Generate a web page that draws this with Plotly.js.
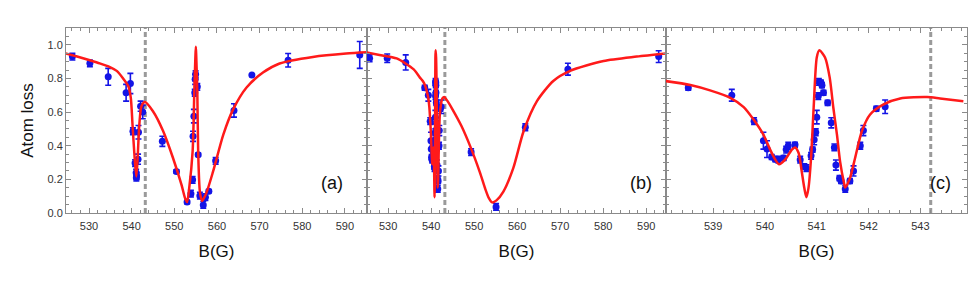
<!DOCTYPE html>
<html>
<head>
<meta charset="utf-8">
<script src="https://cdn.plot.ly/plotly-3.0.1.min.js"></script>
<style>html,body{margin:0;padding:0;background:#fff;}</style>
</head>
<body>
<div id="chart" style="width:969px;height:289px;"></div>
<script>
// ---------- Panel (a) data ----------
const aB = [526.1, 530.2, 534.5, 538.7, 539.7, 540.3, 540.8, 541.05, 541.1, 541.15, 541.5, 541.6, 542.1, 542.6, 547.2, 550.5, 553.0, 553.9, 554.3, 554.4, 554.6, 554.8, 554.9, 555.0, 555.4, 555.6, 556.0, 556.8, 557.3, 558.1, 559.7, 564.0, 568.2, 576.7, 593.5];
const aV = [0.93, 0.89, 0.81, 0.715, 0.77, 0.486, 0.297, 0.24, 0.21, 0.22, 0.32, 0.48, 0.635, 0.60, 0.426, 0.247, 0.065, 0.115, 0.197, 0.456, 0.576, 0.715, 0.795, 0.825, 0.75, 0.347, 0.103, 0.048, 0.094, 0.13, 0.31, 0.61, 0.82, 0.908, 0.94];
const aE = [0.02, 0.02, 0.05, 0.05, 0.06, 0.02, 0.02, 0.02, 0.02, 0.02, 0.03, 0.04, 0.03, 0.04, 0.03, 0.01, 0.01, 0.02, 0.02, 0.03, 0.04, 0.02, 0.03, 0.02, 0.02, 0.01, 0.02, 0.02, 0.02, 0.01, 0.02, 0.04, 0, 0.04, 0.08];
// fitted curve (a)
const caB = [524.4, 527.0, 530.2, 532.5, 534.9, 536.5, 538.0, 539.2, 539.8, 540.2, 540.7, 541.1, 541.4, 541.8, 542.3, 543.1, 545.0, 547.4, 549.7, 551.7, 552.5, 553.0, 553.5, 554.3, 554.7, 554.95, 555.06, 555.15, 555.4, 555.6, 556.0, 556.5, 557.5, 559.1, 561.5, 563.8, 566.9, 570.8, 574.7, 582.5, 590.3, 595.8];
const caV = [0.95, 0.932, 0.908, 0.89, 0.868, 0.845, 0.80, 0.755, 0.685, 0.526, 0.327, 0.217, 0.327, 0.526, 0.635, 0.66, 0.605, 0.486, 0.327, 0.167, 0.09, 0.065, 0.148, 0.366, 0.725, 0.93, 0.988, 0.93, 0.725, 0.366, 0.127, 0.072, 0.118, 0.247, 0.466, 0.616, 0.745, 0.835, 0.889, 0.928, 0.948, 0.956];

// ---------- Panel (b) wide data ----------
const bB = [525.7, 529.8, 534.1, 549.3, 555.1, 561.9, 571.8, 592.9];
const bV = [0.92, 0.92, 0.895, 0.362, 0.036, 0.51, 0.855, 0.93];
const bE = [0.02, 0.025, 0.045, 0.02, 0.02, 0.02, 0.035, 0.035];
// fitted curve (b), outside the zoomed window
const cbLeftB = [525.0, 528.0, 532.0, 535.9, 537.4];
const cbLeftV = [0.955, 0.94, 0.919, 0.855, 0.805];
const cbRightB = [545.0, 547.0, 549.1, 551.4, 552.5, 553.4, 554.2, 555.2, 556.8, 559.1, 561.5, 564.6, 568.4, 572.3, 580.1, 587.8, 594.8];
const cbRightV = [0.615, 0.52, 0.396, 0.237, 0.15, 0.09, 0.063, 0.075, 0.127, 0.267, 0.486, 0.665, 0.785, 0.845, 0.904, 0.93, 0.949];

// ---------- Panel (c) data (zoom 538-544 G) ----------
const cB = [538.52, 539.36, 539.79, 539.97, 540.04, 540.13, 540.2, 540.26, 540.36, 540.41, 540.45, 540.58, 540.68, 540.76, 540.8, 540.89, 540.92, 540.95, 540.98, 541.0, 541.03, 541.04, 541.08, 541.1, 541.13, 541.21, 541.28, 541.34, 541.37, 541.44, 541.47, 541.55, 541.64, 541.71, 541.84, 541.9, 542.15, 542.32];
const cV = [0.745, 0.70, 0.546, 0.43, 0.38, 0.333, 0.32, 0.317, 0.327, 0.377, 0.40, 0.406, 0.317, 0.277, 0.267, 0.34, 0.377, 0.436, 0.48, 0.57, 0.695, 0.78, 0.775, 0.76, 0.715, 0.655, 0.536, 0.39, 0.285, 0.207, 0.19, 0.143, 0.19, 0.25, 0.40, 0.49, 0.62, 0.632];
const cE = [0.015, 0.035, 0.02, 0.05, 0.05, 0.015, 0.015, 0.02, 0.015, 0.02, 0.02, 0.015, 0.02, 0.015, 0.02, 0.02, 0.015, 0.03, 0.02, 0.04, 0.02, 0.02, 0.015, 0.015, 0.015, 0.015, 0.03, 0.02, 0.03, 0.015, 0.015, 0.02, 0.015, 0.03, 0.02, 0.03, 0.015, 0.04];
const ccB = [538.07, 538.56, 538.94, 539.33, 539.59, 539.78, 539.97, 540.10, 540.20, 540.27, 540.39, 540.52, 540.58, 540.65, 540.71, 540.76, 540.80, 540.84, 540.89, 540.94, 541.0, 541.05, 541.16, 541.25, 541.32, 541.39, 541.45, 541.52, 541.55, 541.64, 541.74, 541.87, 542.03, 542.29, 542.61, 543.13, 543.38, 543.83];
const ccV = [0.785, 0.761, 0.729, 0.685, 0.63, 0.556, 0.466, 0.377, 0.317, 0.29, 0.317, 0.377, 0.39, 0.357, 0.247, 0.148, 0.094, 0.148, 0.327, 0.626, 0.925, 0.968, 0.925, 0.805, 0.626, 0.466, 0.307, 0.187, 0.151, 0.207, 0.327, 0.486, 0.586, 0.646, 0.681, 0.689, 0.681, 0.665];

const resonanceB = 543.2;
const panelLabels = ['(a)', '(b)', '(c)'];
const xTicksWide = [530, 540, 550, 560, 570, 580, 590];
const xTicksZoom = [539, 540, 541, 542, 543];
const yTicks = [0.0, 0.2, 0.4, 0.6, 0.8, 1.0];

// ---------- build ----------
const blue = '#1414e6';
const red = '#ff1a1a';
function pts(x, y, e, xa, ya) {
  return {x: x, y: y, type: 'scatter', mode: 'markers', xaxis: xa, yaxis: ya,
    marker: {color: blue, size: 7},
    error_y: {type: 'data', array: e, visible: true, color: blue, thickness: 1.6, width: 3},
    showlegend: false, hoverinfo: 'skip'};
}
function curve(x, y, xa, ya) {
  return {x: x, y: y, type: 'scatter', mode: 'lines', xaxis: xa, yaxis: ya,
    line: {color: red, width: 2.5, shape: 'spline', smoothing: 0.7},
    showlegend: false, hoverinfo: 'skip'};
}
const bAllB = bB.concat(cB), bAllV = bV.concat(cV), bAllE = bE.concat(cE);
const cbB = cbLeftB.concat(ccB, cbRightB), cbV = cbLeftV.concat(ccV, cbRightV);

const data = [
  pts(aB, aV, aE, 'x', 'y'), curve(caB, caV, 'x', 'y'),
  pts(bAllB, bAllV, bAllE, 'x2', 'y2'), curve(cbB, cbV, 'x2', 'y2'),
  pts(cB, cV, cE, 'x3', 'y3'), curve(ccB, ccV, 'x3', 'y3')
];

const W = 969, H = 289;
const xd = [[66 / W, 367 / W], [367 / W, 666 / W], [666 / W, 967 / W]];
const yd = [1 - 213 / H, 1 - 28 / H];
const frame = '#8a8a8a';
const tickFont = {family: 'Liberation Sans, Arial, sans-serif', size: 11, color: '#333'};
const titleFont = {family: 'Liberation Sans, Arial, sans-serif', size: 17, color: '#111'};

function xax(dom, range, tv, minorD, anchor) {
  return {domain: dom, range: range, anchor: anchor, tickvals: tv, ticktext: tv.map(String),
    ticks: 'inside', ticklen: 5, tickwidth: 1, tickcolor: frame, ticklabelstandoff: 3,
    minor: {dtick: minorD, ticks: 'inside', ticklen: 3, tickcolor: frame, showgrid: false},
    showline: true, linecolor: frame, linewidth: 1, mirror: 'allticks', showgrid: false, zeroline: false,
    tickfont: tickFont, title: {text: 'B(G)', font: titleFont, standoff: 13}};
}
function yax(anchor, showLabels) {
  return {domain: yd, range: [0, 1.1], anchor: anchor, tickvals: yTicks, ticktext: yTicks.map(v => v.toFixed(1)),
    showticklabels: showLabels,
    ticks: 'inside', ticklen: 5, tickwidth: 1, tickcolor: frame,
    minor: {dtick: 0.05, ticks: 'inside', ticklen: 3, tickcolor: frame, showgrid: false},
    showline: true, linecolor: frame, linewidth: 1, mirror: 'allticks', showgrid: false, zeroline: false,
    tickfont: tickFont,
    title: showLabels ? {text: 'Atom loss', font: titleFont, standoff: 9} : {text: ''}};
}

const shapes = ['x', 'x2', 'x3'].map(xr => ({type: 'line', xref: xr, yref: 'paper',
  x0: resonanceB, x1: resonanceB, y0: yd[0], y1: yd[1], layer: 'below',
  line: {color: '#9a9a9a', width: 3, dash: '5px,3px'}}));

const labelX = [332, 641, 940];
const annotations = panelLabels.map((t, i) => ({text: t, xref: 'paper', yref: 'paper',
  x: labelX[i] / W, y: 1 - 183 / H, showarrow: false, xanchor: 'center', yanchor: 'middle',
  font: {family: 'Liberation Sans, Arial, sans-serif', size: 18, color: '#111'}}));

const layout = {
  width: W, height: H, autosize: false,
  margin: {l: 0, r: 0, t: 0, b: 0},
  paper_bgcolor: '#fff', plot_bgcolor: '#fff',
  xaxis: xax(xd[0], [524.6, 595.2], xTicksWide, 2, 'y'),
  xaxis2: xax(xd[1], [525.1, 594.6], xTicksWide, 2, 'y2'),
  xaxis3: xax(xd[2], [538.09, 543.9], xTicksZoom, 0.2, 'y3'),
  yaxis: yax('x', true),
  yaxis2: yax('x2', false),
  yaxis3: yax('x3', false),
  shapes: shapes,
  annotations: annotations
};
Plotly.newPlot('chart', data, layout, {staticPlot: true, displayModeBar: false});
</script>
</body>
</html>
